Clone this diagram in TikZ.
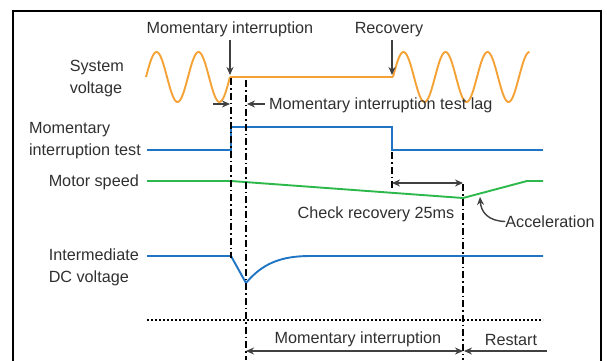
\documentclass[tikz,border=0pt]{standalone}
\usepackage{fontspec}
\setmainfont{Liberation Sans}
\usepackage{tikz}
\usetikzlibrary{arrows.meta,positioning,calc}
\definecolor{sigOrange}{HTML}{F4A235}
\definecolor{sigBlue}{HTML}{1F74C4}
\definecolor{sigGreen}{HTML}{2DB84C}
\definecolor{arrGray}{HTML}{404040}
\definecolor{txtGray}{HTML}{303030}

\begin{document}
\begin{tikzpicture}[x=1pt, y=-1pt,
    lbl/.style={font=\fontsize{16.2}{22}\selectfont, text=txtGray, inner sep=0pt, yshift=-1.5pt},
    sig/.style={line width=1.9pt},
    tline/.style={line width=1.8pt, dash pattern=on 7pt off 3pt on 1.5pt off 3pt},
    arr/.style={line width=1.4pt, draw=arrGray, -{Stealth[length=8pt,width=7pt]}},
    darr/.style={line width=1.4pt, draw=arrGray, {Stealth[length=8pt,width=7pt]}-{Stealth[length=8pt,width=7pt]}}]
    \useasboundingbox (0,0) rectangle (607,360);
    % Frame
    \draw[line width=2pt] (13,362) -- (13,11) -- (601,11) -- (601,362);

    % Row labels
    \node[lbl, anchor=east, align=left] (sysv) at (124,77) {System\\voltage};
    \node[lbl, anchor=east, align=left] (mitest) at (141,139) {Momentary\\interruption test};
    \node[lbl, anchor=east] (mspeed) at (139,181) {Motor speed};
    \node[lbl, anchor=east, align=left] (dcv) at (139,266) {Intermediate\\DC voltage};

    % System voltage
    \draw[sig, sigOrange] plot[domain=146:230, samples=90] (\x, {77-25*sin((\x-146)/42*360)});
    \draw[sig, sigOrange] (230,77) -- (393,77);
    \draw[sig, sigOrange] plot[domain=393:529.5, samples=140] (\x, {77-25*sin((\x-393)/42*360)});

    % Momentary interruption test
    \draw[sig, sigBlue] (147,150) -- (231,150) -- (231,127) -- (392,127) -- (392,150) -- (543,150);

    % Motor speed
    \draw[sig, sigGreen] (147,181) -- (231,181) -- (463,198) -- (527,181) -- (543,181);

    % Intermediate DC voltage
    \draw[sig, sigBlue] (147,256) -- (231,256) -- (246,283)
        .. controls (262,264) and (280,256) .. (310,256) -- (543,256);

    % Time lines
    \draw[tline] (231,78) -- (231,258);
    \draw[tline] (246,80) -- (246,360);
    \draw[tline] (392,152) -- (392,190);
    \draw[tline] (463,184) -- (463,360);
    \draw[line width=1.2pt, dash pattern=on 2pt off 2pt] (147,320) -- (543,320);

    % Events
    \node[lbl] (mi) at (230,28) {Momentary interruption};
    \node[lbl] (rec) at (389,28) {Recovery};
    \draw[arr] (230,40) -- (230,75);
    \draw[arr] (392,40) -- (392,75);

    % Test lag
    \draw[arr] (213,104) -- (230,104);
    \draw[arr] (265,104) -- (247,104);
    \node[lbl, anchor=west] (lag) at (269,104) {Momentary interruption test lag};

    % Check recovery
    \draw[darr] (392,183) -- (463,183);
    \node[lbl] (chk) at (376,213) {Check recovery 25ms};
    \node[lbl] (acc) at (550,220) {Acceleration};
    \draw[arr] (acc.west) .. controls (488,221) and (481,212) .. (480,197);

    % Bottom spans
    \draw[darr] (246,351) -- (463,351);
    \draw[arr] (547,351) -- (464,351);
    \node[lbl] (span) at (358,338) {Momentary interruption};
    \node[lbl] (rst) at (511,338) {Restart};
\end{tikzpicture}
\end{document}
